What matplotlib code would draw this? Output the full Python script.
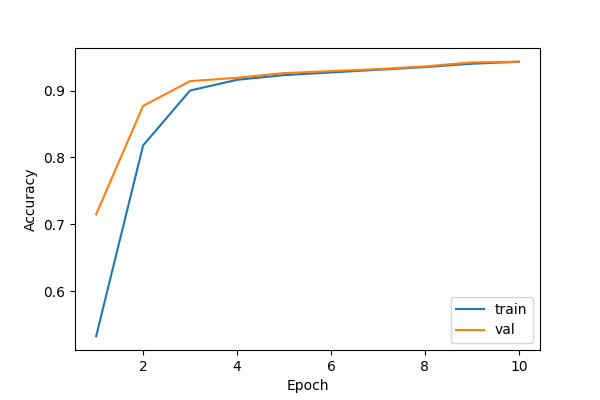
import matplotlib
matplotlib.use('Agg')
import matplotlib.pyplot as plt

epochs = [1, 2, 3, 4, 5, 6, 7, 8, 9, 10]
train_acc = [0.533, 0.818, 0.900, 0.916, 0.923, 0.927, 0.931, 0.935, 0.940, 0.943]
val_acc = [0.715, 0.877, 0.914, 0.919, 0.926, 0.929, 0.932, 0.936, 0.942, 0.943]

if __name__ == '__main__':
    plt.figure(figsize=(6, 4), dpi=100)
    plt.subplots_adjust(left=0.125, right=0.9, top=0.88, bottom=0.125)
    plt.plot(epochs, train_acc, label='train')
    plt.plot(epochs, val_acc, label='val')
    plt.xlabel('Epoch')
    plt.ylabel('Accuracy')
    plt.legend(loc='lower right')
    plt.savefig('out.png')
